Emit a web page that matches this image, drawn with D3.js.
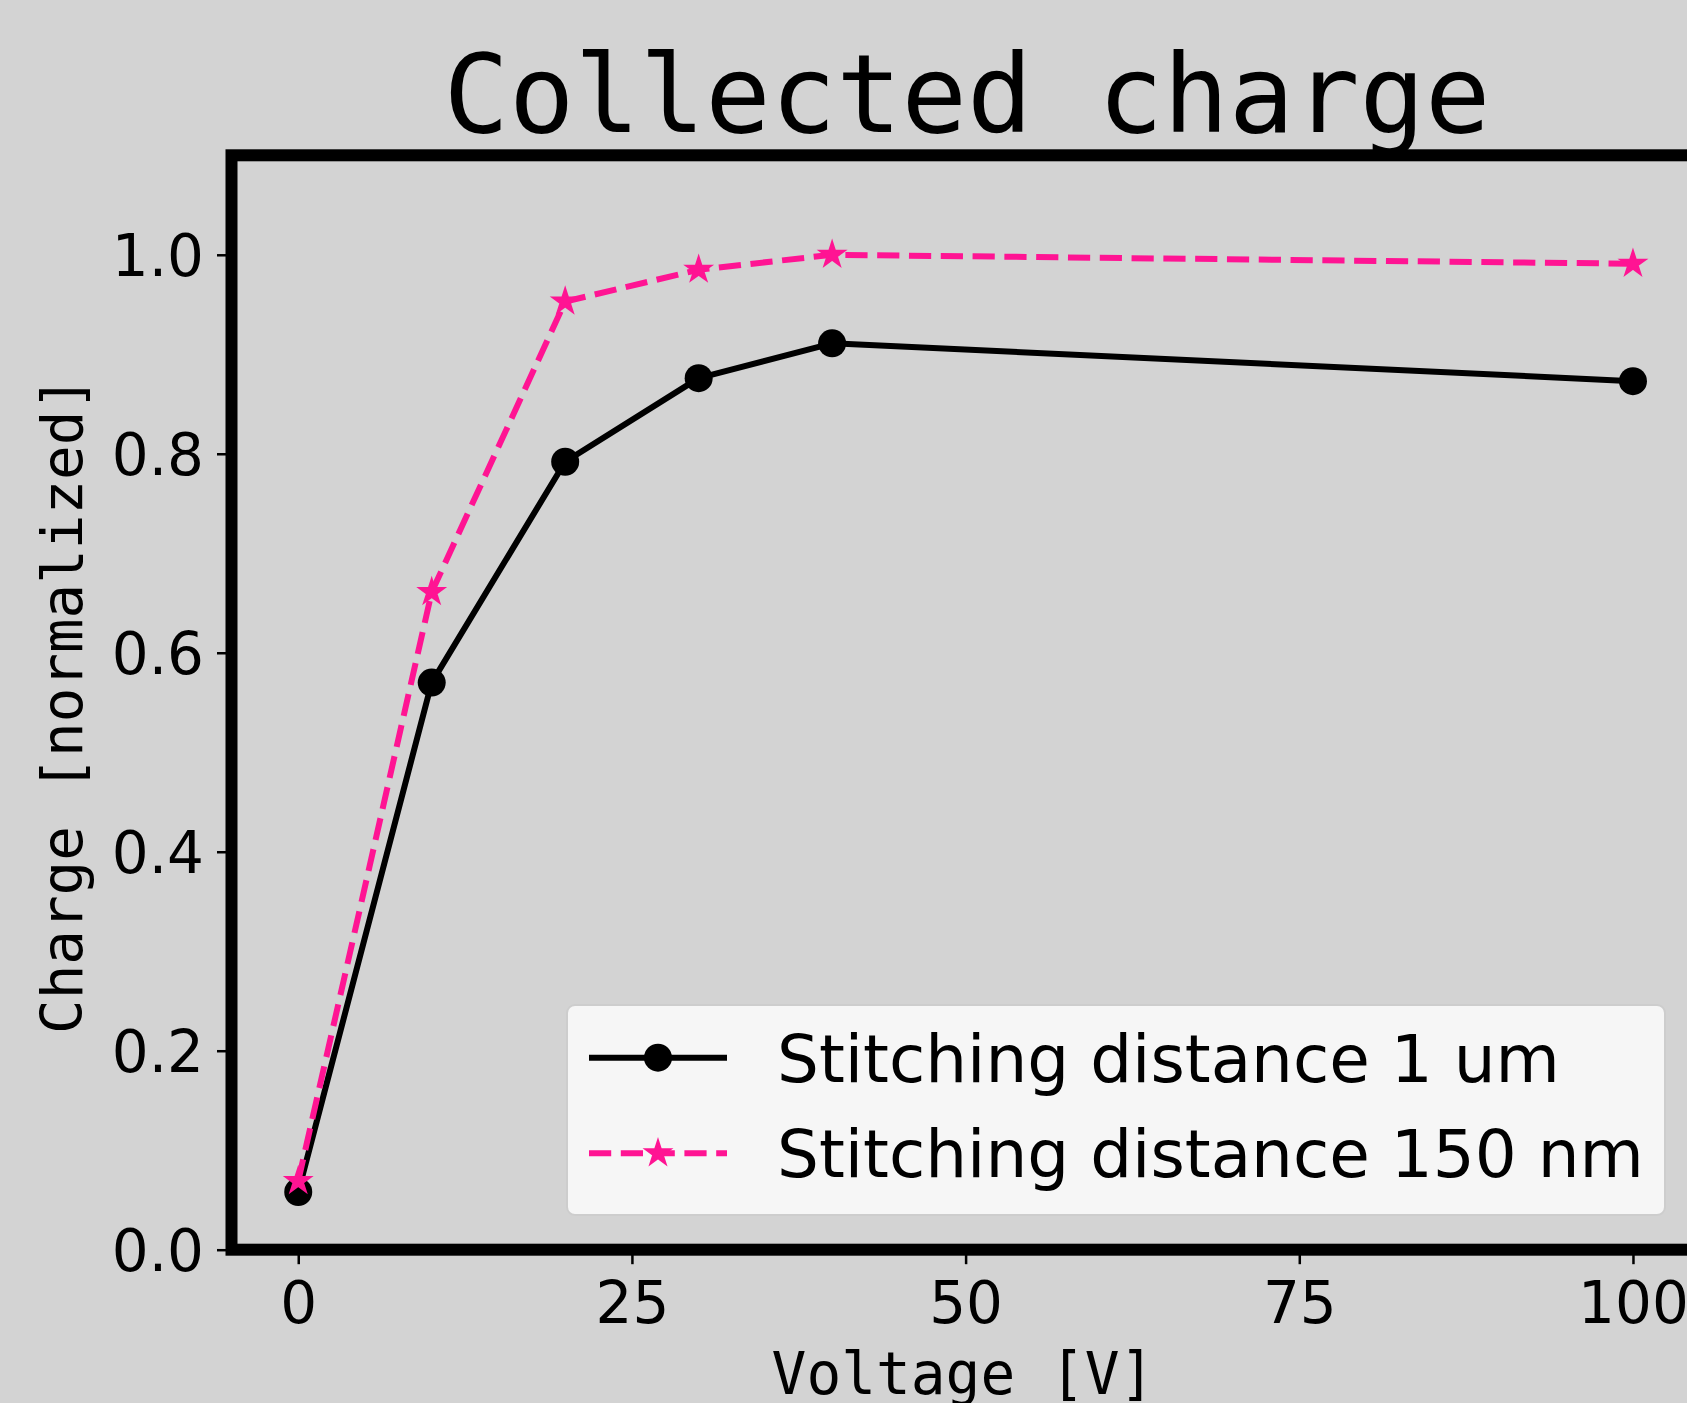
<!DOCTYPE html>
<html>
<head>
<meta charset="utf-8">
<script src="https://cdn.jsdelivr.net/npm/d3@7"></script>
<style>
  html, body { margin: 0; padding: 0; background: #d3d3d3; }
  svg { display: block; }
</style>
</head>
<body>
<svg id="chart"></svg>
<script>
// values
const voltages = [0, 10, 20, 30, 40, 100];
const charge1um = [0.058, 0.570, 0.792, 0.876, 0.911, 0.873];
const charge150nm = [0.069, 0.661, 0.953, 0.985, 1.000, 0.991];
const seriesNames = ['Stitching distance 1 um', 'Stitching distance 150 nm'];
const xTicks = [0, 25, 50, 75, 100];
const yTicks = [0, 0.2, 0.4, 0.6, 0.8, 1.0];

const W = 1687, H = 1403;
const plotLeft = 231.5, plotRight = 1699.7, plotTop = 155.3, plotBottom = 1249.7;
const PINK = '#ff1493';

const svg = d3.select('#chart').attr('width', W).attr('height', H);

svg.append('rect').attr('width', W).attr('height', H).attr('fill', '#d3d3d3');

const x = d3.scaleLinear().domain([-5, 105]).range([plotLeft, plotRight]);
const y = d3.scaleLinear().domain([0, 1.1]).range([plotBottom, plotTop]);

// axes
const xAxis = svg.append('g')
    .attr('transform', `translate(0,${plotBottom})`)
    .call(d3.axisBottom(x).tickValues(xTicks).tickSize(14.5).tickPadding(18).tickFormat(d3.format('d')));
const yAxis = svg.append('g')
    .attr('transform', `translate(${plotLeft},0)`)
    .call(d3.axisLeft(y).tickValues(yTicks).tickSize(14.5).tickPadding(13).tickFormat(d3.format('.1f')));

[xAxis, yAxis].forEach(g => {
    g.select('.domain').remove();
    g.selectAll('.tick line').attr('stroke', '#000').attr('stroke-width', 2.5);
    g.selectAll('.tick text')
        .attr('fill', '#000')
        .style('font-family', '"DejaVu Sans", sans-serif')
        .style('font-size', '58px');
});
yAxis.selectAll('.tick text').attr('dy', '0.36em');

// star marker path, matplotlib style
function starPath(R) {
    const r = R * 0.381966, pts = [];
    for (let i = 0; i < 10; i++) {
        const a = -Math.PI / 2 + i * Math.PI / 5, rr = i % 2 ? r : R;
        pts.push([rr * Math.cos(a), rr * Math.sin(a)]);
    }
    return 'M' + pts.map(p => p.join(',')).join('L') + 'Z';
}

const line = d3.line().x(d => x(d[0])).y(d => y(d[1]));

// series 1: black solid with circles
const d1 = voltages.map((v, i) => [v, charge1um[i]]);
svg.append('path').datum(d1)
    .attr('d', line).attr('fill', 'none')
    .attr('stroke', '#000').attr('stroke-width', 6).attr('stroke-linejoin', 'round');
svg.selectAll('circle.s1').data(d1).enter().append('circle')
    .attr('class', 's1')
    .attr('cx', d => x(d[0])).attr('cy', d => y(d[1])).attr('r', 14).attr('fill', '#000');

// series 2: pink dashed with stars
const d2 = voltages.map((v, i) => [v, charge150nm[i]]);
svg.append('path').datum(d2)
    .attr('d', line).attr('fill', 'none')
    .attr('stroke', PINK).attr('stroke-width', 6).attr('stroke-dasharray', '22.2,9.6');
svg.selectAll('path.s2').data(d2).enter().append('path')
    .attr('class', 's2')
    .attr('d', starPath(13))
    .attr('transform', d => `translate(${x(d[0])},${y(d[1])})`)
    .attr('fill', PINK).attr('stroke', PINK).attr('stroke-width', 2).attr('stroke-linejoin', 'miter');

// spines
svg.append('rect')
    .attr('x', plotLeft).attr('y', plotTop)
    .attr('width', plotRight - plotLeft).attr('height', plotBottom - plotTop)
    .attr('fill', 'none').attr('stroke', '#000').attr('stroke-width', 12);

// title and axis labels
svg.append('text')
    .attr('x', 967).attr('y', 131.5)
    .attr('text-anchor', 'middle')
    .style('font-family', '"DejaVu Sans Mono", monospace').style('font-size', '108.7px')
    .text('Collected charge');
svg.append('text')
    .attr('x', 963).attr('y', 1394)
    .attr('text-anchor', 'middle')
    .style('font-family', '"DejaVu Sans Mono", monospace').style('font-size', '57.8px')
    .text('Voltage [V]');
svg.append('text')
    .attr('transform', 'translate(81.5,705) rotate(-90)')
    .attr('text-anchor', 'middle')
    .style('font-family', '"DejaVu Sans Mono", monospace').style('font-size', '57.5px')
    .text('Charge [normalized]');

// legend
const leg = svg.append('g');
leg.append('rect')
    .attr('x', 567).attr('y', 1005).attr('width', 1098).attr('height', 210)
    .attr('rx', 8).attr('fill', '#f6f6f6').attr('stroke', '#cdcdcd').attr('stroke-width', 2);

const rows = [
    { y: 1057.7, color: '#000', dash: null, marker: 'circle' },
    { y: 1153.3, color: PINK, dash: '22.2,9.6', marker: 'star' }
];
rows.forEach((r, i) => {
    leg.append('line')
        .attr('x1', 589).attr('x2', 727).attr('y1', r.y).attr('y2', r.y)
        .attr('stroke', r.color).attr('stroke-width', 6)
        .attr('stroke-dasharray', r.dash);
    if (r.marker === 'circle') {
        leg.append('circle').attr('cx', 658).attr('cy', r.y).attr('r', 14).attr('fill', r.color);
    } else {
        leg.append('path').attr('d', starPath(13))
            .attr('transform', `translate(658,${r.y})`)
            .attr('fill', r.color).attr('stroke', r.color).attr('stroke-width', 2);
    }
    leg.append('text')
        .attr('x', 777).attr('y', r.y + 24)
        .style('font-family', '"DejaVu Sans", sans-serif').style('font-size', '66px')
        .text(seriesNames[i]);
});
</script>
</body>
</html>
